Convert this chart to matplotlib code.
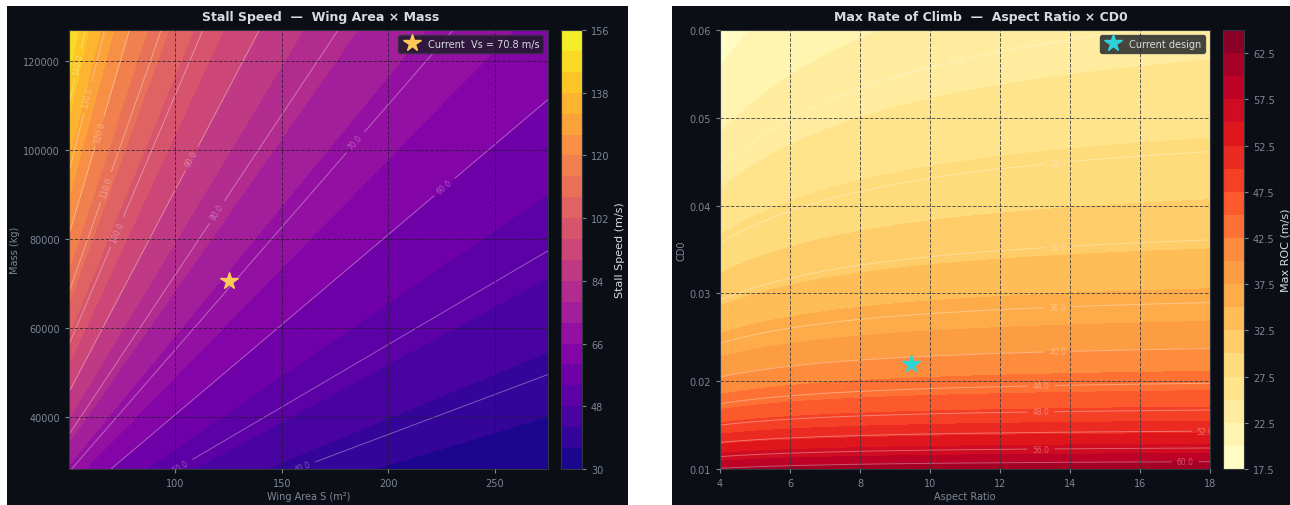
import numpy as np
import matplotlib
matplotlib.use('Agg')
import matplotlib.pyplot as plt
from matplotlib.patches import Rectangle

# design point / model constants
S_design = 125.0        # m^2
m_design = 70500.0      # kg
AR_design = 9.45
CD0_design = 0.022
rho = 1.225
g = 9.81
CL_max = 1.8
e_osw = 0.8
TW = 0.31

S_range = [50.0, 275.0]
m_range = [0.4 * m_design, 1.8 * m_design]
AR_range = [4.0, 18.0]
CD0_range = [0.01, 0.06]

vs_levels = np.arange(30, 157, 6)
vs_lines = np.arange(40, 151, 10)
vs_ticks = [30, 48, 66, 84, 102, 120, 138, 156]
roc_levels = np.arange(17.5, 65.1, 2.5)
roc_lines = np.arange(20, 64, 4)
roc_ticks = [17.5, 22.5, 27.5, 32.5, 37.5, 42.5, 47.5, 52.5, 57.5, 62.5]

# where the contour labels sit
vs_label_pos = [(159.4, 29100), (102.1, 29100), (225.7, 92050), (184.3, 101720),
                (119.5, 86000), (107.8, 97900), (72.5, 81480), (67.8, 91600),
                (64.6, 103970), (58.9, 111840), (54.2, 119260)]
roc_label_pos = [(10.7, 0.0574), (13.66, 0.0455), (13.66, 0.0357), (13.66, 0.0288),
                 (13.66, 0.0237), (13.17, 0.0197), (13.17, 0.0167), (17.86, 0.0144),
                 (13.17, 0.0125), (17.29, 0.0109)]

BG = '#0b0e14'
TXT = '#d6dbe3'
TCK = '#7d8796'
SPN = '#30363d'


def stall(m, S):
    return np.sqrt(2 * m * g / (rho * S * CL_max))


def roc_max(AR, CD0):
    WS = m_design * g / S_design
    K = 1 / (np.pi * e_osw * AR)
    LD = 1 / (2 * np.sqrt(CD0 * K))
    Z = 1 + np.sqrt(1 + 3 / (LD**2 * TW**2))
    return np.sqrt(WS * Z / (3 * rho * CD0)) * TW**1.5 * (1 - Z / 6 - 3 / (2 * TW**2 * LD**2 * Z))


S = np.linspace(S_range[0], S_range[1], 200)
M = np.linspace(m_range[0], m_range[1], 200)
SS, MM = np.meshgrid(S, M)
VS = stall(MM, SS)

AR = np.linspace(AR_range[0], AR_range[1], 200)
CD = np.linspace(CD0_range[0], CD0_range[1], 200)
AA, CC = np.meshgrid(AR, CD)
ROC = roc_max(AA, CC)

W, H = 1290, 506
fig = plt.figure(figsize=(W / 100, H / 100), dpi=100, facecolor='white')
fig.patches.append(Rectangle((7 / W, 0), 621 / W, 499 / H, transform=fig.transFigure,
                             facecolor=BG, edgecolor='none', zorder=-10))
fig.patches.append(Rectangle((672 / W, 0), 618 / W, 499 / H, transform=fig.transFigure,
                             facecolor=BG, edgecolor='none', zorder=-10))

bot = 1 - 470 / H
hgt = (470 - 31) / H
ax1 = fig.add_axes([69 / W, bot, 479 / W, hgt])
cax1 = fig.add_axes([561 / W, bot, 21 / W, hgt])
ax2 = fig.add_axes([720 / W, bot, 490 / W, hgt])
cax2 = fig.add_axes([1223 / W, bot, 21 / W, hgt])


def style(ax):
    ax.set_facecolor(BG)
    for sp in ax.spines.values():
        sp.set_color(SPN)
    ax.tick_params(colors=TCK, labelsize=7, length=3)
    ax.grid(True, linestyle='--', color='#1a1d24', alpha=0.7, linewidth=0.7)
    ax.set_axisbelow(False)


# ---- left: stall speed
cf1 = ax1.contourf(SS, MM, VS, levels=vs_levels, cmap='plasma')
cs1 = ax1.contour(SS, MM, VS, levels=vs_lines, colors='white', alpha=0.35, linewidths=0.7)
ax1.clabel(cs1, fmt='%.1f', fontsize=5.5, colors='#ffffff', manual=vs_label_pos)
vs_now = stall(m_design, S_design)
ax1.plot(S_design, m_design, marker='*', color='#ffc857', markersize=13, linestyle='none',
         label=f'Current  Vs = {vs_now:.1f} m/s')
style(ax1)
ax1.set_xlim(S_range)
ax1.set_ylim(m_range)
ax1.set_xticks([100, 150, 200, 250])
ax1.set_yticks([40000, 60000, 80000, 100000, 120000])
ax1.set_xlabel('Wing Area S (m²)', color=TCK, fontsize=7, labelpad=2)
ax1.set_ylabel('Mass (kg)', color=TCK, fontsize=7, labelpad=2)
lg = ax1.legend(loc='upper right', fontsize=7, facecolor='#161b22', edgecolor=SPN, framealpha=0.8,
                handletextpad=0.6, borderpad=0.4)
for t in lg.get_texts():
    t.set_color(TXT)
cb1 = fig.colorbar(cf1, cax=cax1, ticks=vs_ticks)
cb1.set_label('Stall Speed (m/s)', color=TXT, fontsize=8)
cb1.outline.set_edgecolor(SPN)
cax1.tick_params(colors=TCK, labelsize=7, length=3)
fig.text(321 / W, 1 - 18 / H, 'Stall Speed  —  Wing Area × Mass', ha='center', va='center',
         color=TXT, fontsize=9, fontweight='bold')

# ---- right: max rate of climb
cf2 = ax2.contourf(AA, CC, ROC, levels=roc_levels, cmap='YlOrRd')
cs2 = ax2.contour(AA, CC, ROC, levels=roc_lines, colors='white', alpha=0.35, linewidths=0.7)
ax2.clabel(cs2, fmt='%.1f', fontsize=5.5, colors='#ffffff', manual=roc_label_pos)
ax2.plot(AR_design, CD0_design, marker='*', color='#2ed3d9', markersize=13, linestyle='none',
         label='Current design')
style(ax2)
ax2.grid(True, linestyle='--', color='#333842', alpha=0.8, linewidth=0.7)
ax2.set_xlim(AR_range)
ax2.set_ylim(CD0_range)
ax2.set_xticks(np.arange(4, 19, 2))
ax2.set_yticks([0.01, 0.02, 0.03, 0.04, 0.05, 0.06])
ax2.set_xlabel('Aspect Ratio', color=TCK, fontsize=7, labelpad=2)
ax2.set_ylabel('CD0', color=TCK, fontsize=7, labelpad=2)
lg = ax2.legend(loc='upper right', fontsize=7, facecolor='#161b22', edgecolor=SPN, framealpha=0.8,
                handletextpad=0.6, borderpad=0.4)
for t in lg.get_texts():
    t.set_color(TXT)
cb2 = fig.colorbar(cf2, cax=cax2, ticks=roc_ticks)
cb2.set_label('Max ROC (m/s)', color=TXT, fontsize=8)
cb2.outline.set_edgecolor(SPN)
cax2.tick_params(colors=TCK, labelsize=7, length=3)
fig.text(981 / W, 1 - 18 / H, 'Max Rate of Climb  —  Aspect Ratio × CD0', ha='center', va='center',
         color=TXT, fontsize=9, fontweight='bold')

fig.savefig('out.png', dpi=100, facecolor=fig.get_facecolor())
